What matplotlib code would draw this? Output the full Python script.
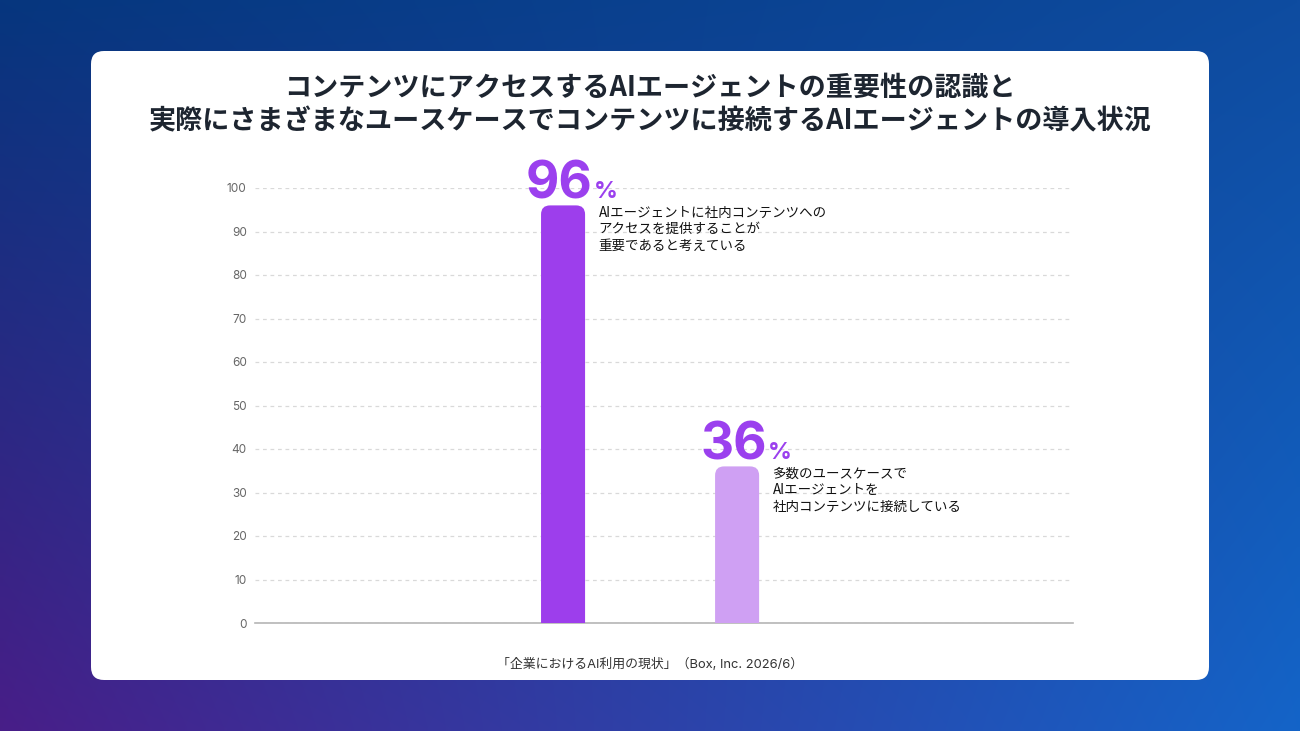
import numpy as np
import matplotlib
matplotlib.use("Agg")
import matplotlib.pyplot as plt
from matplotlib.patches import FancyBboxPatch

plt.rcParams['font.family'] = ['Noto Sans CJK JP', 'DejaVu Sans']

title_lines = [
    "コンテンツにアクセスするAIエージェントの重要性の認識と",
    "実際にさまざまなユースケースでコンテンツに接続するAIエージェントの導入状況",
]
categories = ["重要性の認識", "導入状況"]
values = [96, 36]
notes = [
    "AIエージェントに社内コンテンツへの\nアクセスを提供することが\n重要であると考えている",
    "多数のユースケースで\nAIエージェントを\n社内コンテンツに接続している",
]
bar_colors = ["#9d3eec", "#cfa0f3"]
yticks = list(range(0, 101, 10))
source = "「企業におけるAI利用の現状」（Box, Inc. 2026/6）"

W, H = 1300, 731
fig = plt.figure(figsize=(W / 100, H / 100), dpi=100)

# background gradient + white card
bg = fig.add_axes([0, 0, 1, 1])
bg.set_xlim(0, W)
bg.set_ylim(H, 0)
bg.axis("off")
tl = np.array([6, 54, 126]) / 255
tr = np.array([14, 76, 160]) / 255
bl = np.array([72, 30, 136]) / 255
br = np.array([20, 100, 200]) / 255
u = np.linspace(0, 1, 260)[None, :, None]
v = np.linspace(0, 1, 150)[:, None, None]
grad = (1 - v) * ((1 - u) * tl + u * tr) + v * ((1 - u) * bl + u * br)
bg.imshow(grad, extent=[0, W, H, 0], aspect="auto", interpolation="bilinear")
card = FancyBboxPatch((91, 51), 1118, 629, boxstyle="round,pad=0,rounding_size=13",
                      facecolor="white", edgecolor="none")
bg.add_patch(card)

bg.text(650, 88, title_lines[0], ha="center", va="center", fontsize=19.5,
        fontweight="bold", color="#1d2530")
bg.text(650, 121, title_lines[1], ha="center", va="center", fontsize=19.5,
        fontweight="bold", color="#1d2530")
bg.text(650, 664, source, ha="center", va="center", fontsize=9.3, color="#333333",
        family=["Inter", "Noto Sans CJK JP"])

# chart
ax = fig.add_axes([255 / W, 1 - 623 / H, (1073 - 255) / W, (623 - 188) / H])
ax.set_facecolor("none")
x = np.arange(len(values))
ax.set_xlim(-1.77, 2.93)
ax.set_ylim(0, 100)
bars = ax.bar(x, values, width=0.253, color="none")

# rounded-top bars
px_x = 174.0
px_y = 4.35
for b, c in zip(bars, bar_colors):
    bx, bw, bh = b.get_x(), b.get_width(), b.get_height()
    r = 9 / px_x
    p = FancyBboxPatch((bx, -5), bw, bh + 5, boxstyle=f"round,pad=0,rounding_size={r}",
                       mutation_aspect=px_x / px_y, facecolor=c, edgecolor="none",
                       clip_on=True, zorder=3)
    ax.add_patch(p)

for xi, val, note in zip(x, values, notes):
    ax.annotate(str(val), xy=(xi, val), xytext=(21.5, 5), textcoords="offset points",
                ha="right", va="baseline", fontsize=37, fontweight="bold",
                color="#9b40ee", family=["Inter", "DejaVu Sans"])
    ax.annotate("%", xy=(xi, val), xytext=(22.5, 5), textcoords="offset points",
                ha="left", va="baseline", fontsize=17, fontweight="bold",
                color="#9b40ee", family=["Inter", "DejaVu Sans"])
    ax.annotate(note, xy=(xi, val), xytext=(25.5, -0.5), textcoords="offset points",
                ha="left", va="top", fontsize=9.7, color="#111111", linespacing=1.2)

ax.set_yticks(yticks)
ax.set_xticks([])
ax.tick_params(axis="y", length=0, pad=6, labelsize=8.5, labelcolor="#666666")
for lbl in ax.get_yticklabels():
    lbl.set_family(["Inter", "DejaVu Sans"])
ax.grid(axis="y", color="#d9d9d9", linestyle=(0, (3, 3)), linewidth=0.9)
ax.set_axisbelow(True)
for s in ["top", "right", "left"]:
    ax.spines[s].set_visible(False)
ax.spines["bottom"].set_color("#b5b5b5")
ax.spines["bottom"].set_linewidth(1.2)

fig.savefig("out.png", dpi=100)
